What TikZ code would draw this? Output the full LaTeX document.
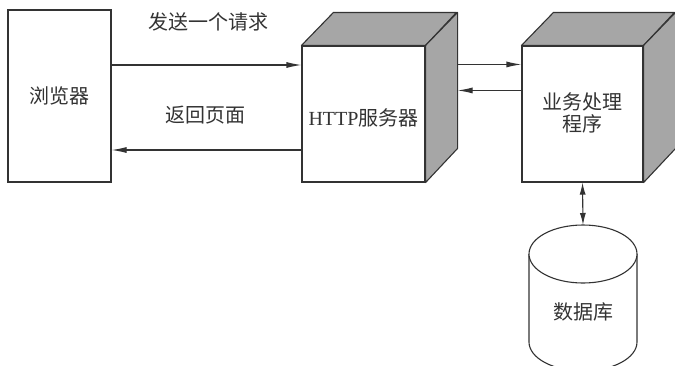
\documentclass[tikz,border=0pt]{standalone}
\usepackage{fontspec}
\setmainfont{Liberation Serif}
\newfontfamily\cjk{Noto Sans CJK SC}
\usetikzlibrary{arrows.meta}
\definecolor{ink}{HTML}{333333}
\definecolor{shade}{HTML}{A6A6A6}
\begin{document}
\begin{tikzpicture}[x=1pt,y=-1pt,
  every node/.style={text=ink,font=\fontsize{20}{24}\selectfont},
  face/.style={draw=ink,line width=1.1pt,fill=white,rectangle,inner sep=0pt},
  side/.style={draw=ink,line width=1.1pt,fill=shade,line join=round},
  conn/.style={draw=ink,line width=1.1pt,-{Latex[length=15pt,width=6pt]}},
  dconn/.style={draw=ink,line width=1.1pt,{Latex[length=12pt,width=6pt]}-{Latex[length=12pt,width=6pt]}}]
\useasboundingbox (0,0) rectangle (675,365);
\fill[white] (0,0) rectangle (675,365);
% browser
\node[face,minimum width=103pt,minimum height=172pt] (browser) at (59.5,96) {\cjk 浏览器};
% HTTP server cube
\node[face,minimum width=123pt,minimum height=136pt] (http) at (363.5,114) {};
\draw[side] (http.north west) -- ++(32,-33) -- ++(123,0) -- (http.north east) -- cycle;
\draw[side] (http.north east) -- ++(32,-33) -- ++(0,136) -- (http.south east) -- cycle;
\node (httplabel) at (363.5,118) {HTTP{\cjk 服务器}};
% business cube
\node[face,minimum width=121pt,minimum height=136pt,align=center] (biz) at (582.5,114) {};
\draw[side] (biz.north west) -- ++(32,-33) -- ++(121,0) -- (biz.north east) -- cycle;
\draw[side] (biz.north east) -- ++(32,-33) -- ++(0,136) -- (biz.south east) -- cycle;
\node[align=center] (bizlabel) at (582.5,113) {\cjk 业务处理\\[-2pt]\cjk 程序};
% database cylinder
\fill[white] (529,254) -- (529,342) arc[start angle=180,end angle=0,x radius=54,y radius=29] -- (637,254) -- cycle;
\draw[ink,line width=1.1pt] (529,254) -- (529,342) arc[start angle=180,end angle=0,x radius=54,y radius=29] -- (637,254);
\draw[ink,line width=1.1pt,fill=white] (583,254) ellipse [x radius=54,y radius=29];
\node (db) at (583,312) {\cjk 数据库};
\coordinate (dbtop) at (583,225);
% connectors
\coordinate (a1) at ([yshift=31pt]browser.east);
\coordinate (a2) at ([yshift=-54pt]browser.east);
\draw[conn] (a1) -- (http.west |- a1);
\draw[conn] (http.west |- a2) -- (a2);
\node (req) at (208,22) {\cjk 发送一个请求};
\node (resp) at (205,115) {\cjk 返回页面};
\coordinate (hb1) at ([xshift=32pt,yshift=-19pt]http.north east);
\coordinate (hb2) at ([xshift=32pt,yshift=-45pt]http.north east);
\draw[conn] (hb1) -- (biz.west |- hb1);
\draw[conn] (biz.west |- hb2) -- (hb2);
\draw[dconn] (biz.south) -- (dbtop);
\end{tikzpicture}
\end{document}
